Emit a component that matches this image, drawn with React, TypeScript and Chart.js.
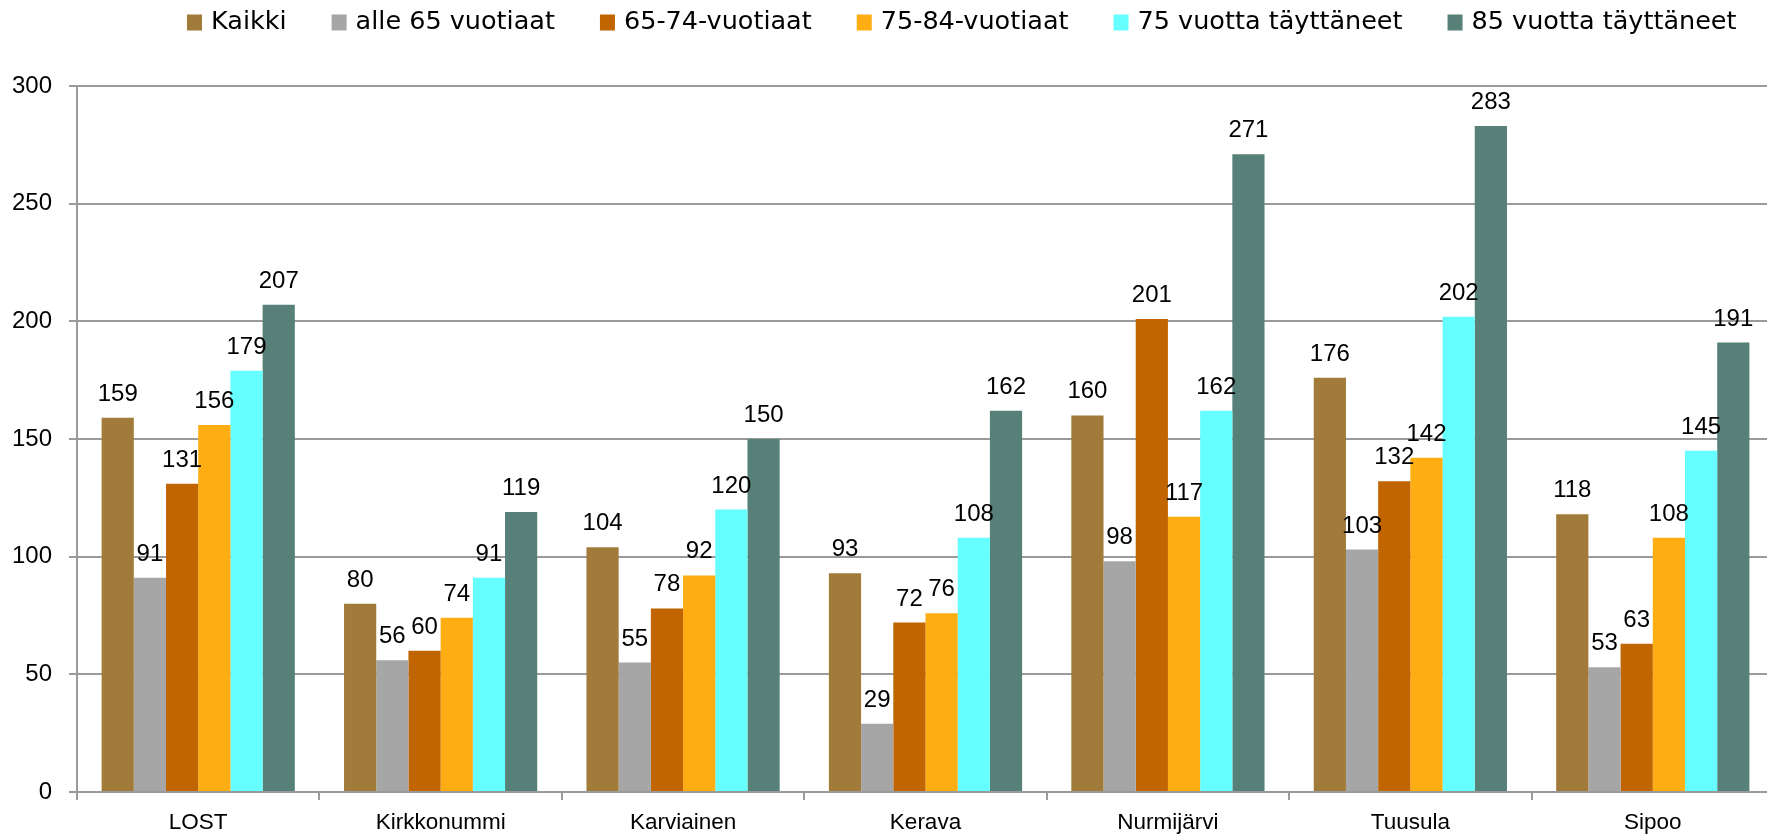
import React, { useEffect, useRef } from 'react';
import { Chart, registerables } from 'chart.js';

Chart.register(...registerables);

// ---- data ----
const categories = ['LOST', 'Kirkkonummi', 'Karviainen', 'Kerava', 'Nurmijärvi', 'Tuusula', 'Sipoo'];
const seriesNames = [
  'Kaikki',
  'alle 65 vuotiaat',
  '65-74-vuotiaat',
  '75-84-vuotiaat',
  '75 vuotta täyttäneet',
  '85 vuotta täyttäneet',
];
const kaikki = [159, 80, 104, 93, 160, 176, 118];
const alle65 = [91, 56, 55, 29, 98, 103, 53];
const v65to74 = [131, 60, 78, 72, 201, 132, 63];
const v75to84 = [156, 74, 92, 76, 117, 142, 108];
const yli75 = [179, 91, 120, 108, 162, 202, 145];
const yli85 = [207, 119, 150, 162, 271, 283, 191];
const seriesValues = [kaikki, alle65, v65to74, v75to84, yli75, yli85];
const seriesColors = ['#A07B39', '#A6A6A6', '#C06500', '#FEAD12', '#66FFFF', '#578178'];
const yTickValues = [0, 50, 100, 150, 200, 250, 300];

// ---- style constants ----
const LABEL_FONT = '"Liberation Sans", Arial, sans-serif';
const LEGEND_FONT = '"DejaVu Sans", sans-serif';
const CANVAS_W = 1774;
const CANVAS_H = 838;
const GRID_COLOR = '#9a9a9a';

const valueLabelPlugin = {
  id: 'valueLabels',
  afterDatasetsDraw(chart: any) {
    const ctx = chart.ctx;
    ctx.save();
    ctx.font = `24px ${LABEL_FONT}`;
    ctx.fillStyle = '#000';
    ctx.textAlign = 'center';
    ctx.textBaseline = 'alphabetic';
    chart.data.datasets.forEach((ds: any, di: number) => {
      const meta = chart.getDatasetMeta(di);
      meta.data.forEach((bar: any, i: number) => {
        ctx.fillText(String(ds.data[i]), bar.x, bar.y - 17);
      });
    });
    ctx.restore();
  },
};

const LEGEND_START_X = 187;
const LEGEND_MID_Y = 22.5;
const BOX_W = 15;
const BOX_H = 16;
const BOX_GAP = 9;
const ITEM_GAP = 45;

const topLegendPlugin = {
  id: 'topLegend',
  afterDraw(chart: any) {
    const ctx = chart.ctx;
    ctx.save();
    ctx.font = `25.5px ${LEGEND_FONT}`;
    ctx.textBaseline = 'middle';
    ctx.textAlign = 'left';
    let x = LEGEND_START_X;
    chart.data.datasets.forEach((ds: any) => {
      const w = ctx.measureText(ds.label).width;
      ctx.fillStyle = ds.backgroundColor;
      ctx.fillRect(x, LEGEND_MID_Y - BOX_H / 2, BOX_W, BOX_H);
      ctx.fillStyle = '#000';
      ctx.fillText(ds.label, x + BOX_W + BOX_GAP, LEGEND_MID_Y);
      x += BOX_W + BOX_GAP + w + ITEM_GAP;
    });
    ctx.restore();
  },
};

export default function App() {
  const canvasRef = useRef<HTMLCanvasElement | null>(null);

  useEffect(() => {
    const canvas = canvasRef.current;
    if (!canvas) return;
    const chart = new Chart(canvas, {
      type: 'bar',
      data: {
        labels: categories,
        datasets: seriesNames.map((name, i) => ({
          label: name,
          data: seriesValues[i],
          backgroundColor: seriesColors[i],
          borderWidth: 0,
          barPercentage: 1,
          categoryPercentage: 0.797,
        })),
      },
      options: {
        responsive: false,
        animation: false,
        devicePixelRatio: 1,
        layout: { padding: { top: 86, left: 0, right: 0, bottom: 0 } },
        plugins: {
          legend: { display: false },
          tooltip: { enabled: false },
        },
        scales: {
          x: {
            offset: true,
            grid: {
              display: true,
              drawOnChartArea: false,
              drawTicks: true,
              tickLength: 8,
              offset: true,
              color: GRID_COLOR,
              lineWidth: 2,
            },
            border: { display: true, color: GRID_COLOR, width: 2 },
            ticks: {
              color: '#000',
              font: { family: LABEL_FONT, size: 22.5 },
              padding: 9,
              maxRotation: 0,
              autoSkip: false,
            },
            afterFit: (s: any) => {
              s.height = 46;
            },
          },
          y: {
            min: 0,
            max: 300,
            afterBuildTicks: (s: any) => {
              s.ticks = yTickValues.map((v) => ({ value: v }));
            },
            grid: {
              display: true,
              drawTicks: true,
              tickLength: 8,
              color: GRID_COLOR,
              lineWidth: 2,
            },
            border: { display: true, color: GRID_COLOR, width: 2 },
            ticks: {
              color: '#000',
              font: { family: LABEL_FONT, size: 24 },
              padding: 17,
            },
            afterFit: (s: any) => {
              s.width = 77;
            },
          },
        },
      },
      plugins: [valueLabelPlugin, topLegendPlugin],
    });
    return () => chart.destroy();
  }, []);

  return (
    <div
      style={{
        position: 'fixed',
        left: 0,
        top: 0,
        width: '100vw',
        height: '100vh',
        overflow: 'hidden',
        background: '#fff',
      }}
    >
      <canvas
        ref={canvasRef}
        width={CANVAS_W}
        height={CANVAS_H}
        style={{ display: 'block', width: CANVAS_W, height: CANVAS_H }}
      />
    </div>
  );
}
